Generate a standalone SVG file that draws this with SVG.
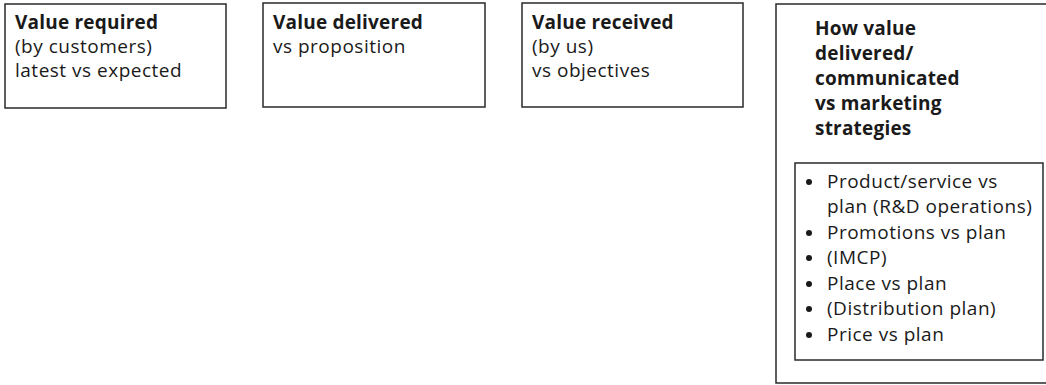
<svg xmlns="http://www.w3.org/2000/svg" width="1046" height="385" viewBox="0 0 1046 385">
  <style>
    .box { fill: #ffffff; stroke: #2a2a2a; stroke-width: 1.5; }
    text { font-family: "Open Sans", "Noto Sans", sans-serif; font-size: 19px; fill: #1a1a1a; letter-spacing: 0.5px; }
    .b { font-weight: bold; letter-spacing: 0.2px; }
    .dot { fill: #1a1a1a; }
  </style>
  <rect width="1046" height="385" fill="#ffffff"/>

  <g id="value-required">
    <rect class="box" x="5" y="4" width="221" height="104"/>
    <text x="15" y="29" class="b">Value required</text>
    <text x="15" y="53">(by customers)</text>
    <text x="15" y="77">latest vs expected</text>
  </g>

  <g id="value-delivered">
    <rect class="box" x="263" y="3" width="222" height="104"/>
    <text x="273" y="29" class="b">Value delivered</text>
    <text x="273" y="53">vs proposition</text>
  </g>

  <g id="value-received">
    <rect class="box" x="522" y="3" width="221" height="104"/>
    <text x="532" y="29" class="b">Value received</text>
    <text x="532" y="53">(by us)</text>
    <text x="532" y="77">vs objectives</text>
  </g>

  <g id="how-value-delivered">
    <rect class="box" x="776" y="4" width="280" height="379"/>
    <text x="815" y="35" class="b">How value</text>
    <text x="815" y="60" class="b">delivered/</text>
    <text x="815" y="85" class="b">communicated</text>
    <text x="815" y="110" class="b">vs marketing</text>
    <text x="815" y="135" class="b">strategies</text>

    <g id="marketing-mix">
      <rect class="box" x="795" y="163" width="248" height="197"/>
      <circle class="dot" cx="809" cy="182" r="3"/>
      <text x="827" y="188">Product/service vs</text>
      <text x="827" y="213">plan (R&amp;D operations)</text>
      <circle class="dot" cx="809" cy="233" r="3"/>
      <text x="827" y="239">Promotions vs plan</text>
      <circle class="dot" cx="809" cy="258" r="3"/>
      <text x="827" y="264">(IMCP)</text>
      <circle class="dot" cx="809" cy="284" r="3"/>
      <text x="827" y="290">Place vs plan</text>
      <circle class="dot" cx="809" cy="309" r="3"/>
      <text x="827" y="315">(Distribution plan)</text>
      <circle class="dot" cx="809" cy="335" r="3"/>
      <text x="827" y="341">Price vs plan</text>
    </g>
  </g>
</svg>
